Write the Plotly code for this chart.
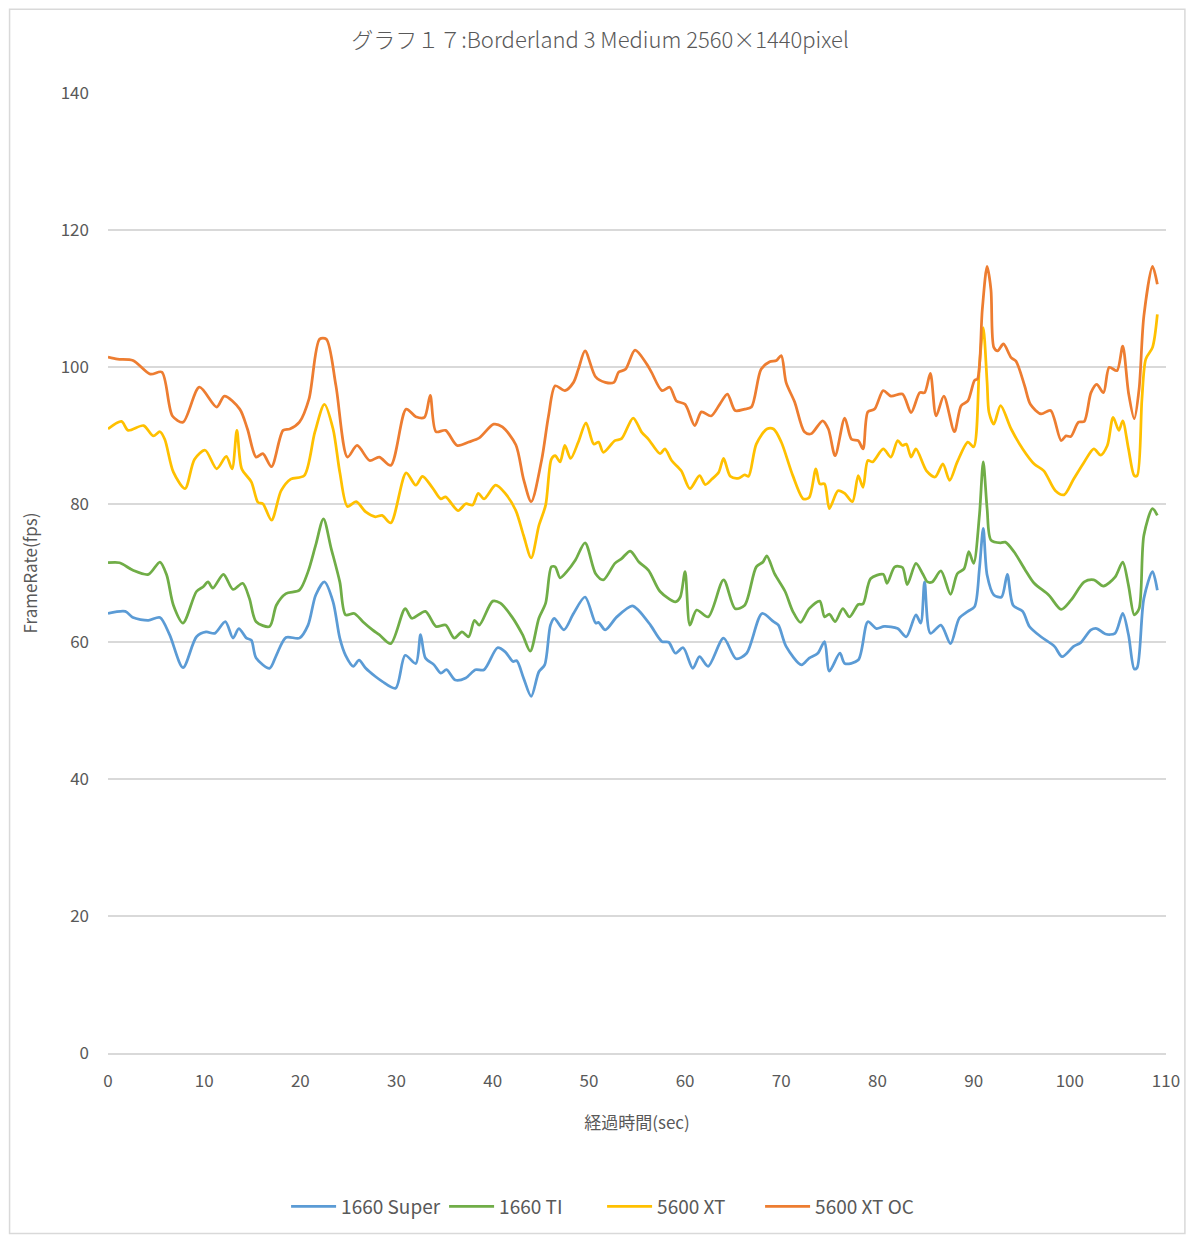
import plotly.graph_objects as go

# ---- data ----
t_super = [0, 1.8, 2.6, 4.2, 5.4, 6.4, 7.8, 9.2, 10.2, 11.1, 12.2, 13.0, 13.6, 14.4, 14.9, 15.4, 16.8, 17.5, 18.5, 19.9,
           20.8, 21.6, 22.5, 23.4, 24.1, 24.7, 25.5, 26.1, 26.8, 27.8, 28.5, 29.9, 30.9, 32.0, 32.5, 33.0, 33.9, 34.6, 35.2,
           36.1, 37.2, 38.2, 39.1, 40.5, 41.3, 42.1, 42.5, 43.2, 44.0, 44.8, 45.4, 46.0, 46.4, 47.4, 48.4, 49.6, 50.7, 51.0,
           51.7, 52.9, 54.5, 55.2, 56.4, 57.6, 58.3, 59.0, 59.8, 60.8, 61.5, 62.4, 64.0, 65.3, 66.4, 68.0, 69.2, 69.7, 70.5,
           72.1, 72.9, 73.8, 74.5, 75.0, 76.1, 76.6, 78.0, 79.0, 79.9, 80.7, 82.1, 83.0, 84.0, 84.5, 84.9, 85.5, 86.6, 87.6,
           88.5, 89.4, 90.1, 90.6, 91.0, 91.4, 92.1, 92.9, 93.5, 94.1, 95.1, 95.8, 97.0, 98.4, 99.2, 100.4, 101.1, 102.2,
           102.8, 103.7, 104.7, 105.5, 106.1, 106.7, 107.0, 107.7, 108.6, 109.1]
v_super = [64.1, 64.4, 63.5, 63.1, 63.5, 61.0, 56.2, 60.7, 61.4, 61.2, 62.9, 60.5, 61.9, 60.5, 60.2, 57.6, 56.1, 58.0, 60.6, 60.5,
           62.4, 66.8, 68.7, 65.8, 60.5, 58.0, 56.4, 57.3, 56.1, 54.9, 54.2, 53.2, 58.0, 56.8, 61.0, 57.6, 56.6, 55.4, 55.9,
           54.4, 54.7, 55.9, 55.9, 59.1, 58.5, 57.1, 57.2, 54.7, 52.0, 55.6, 56.6, 62.4, 63.4, 61.7, 64.1, 66.5, 62.7, 62.8,
           61.7, 63.6, 65.2, 64.5, 62.4, 60.0, 59.9, 58.3, 59.1, 56.1, 57.8, 56.4, 60.5, 57.5, 58.3, 64.1, 62.9, 62.4, 59.3,
           56.6, 57.6, 58.3, 60.0, 55.7, 58.3, 56.8, 57.3, 62.9, 61.9, 62.2, 61.9, 60.7, 63.9, 62.7, 68.7, 61.2, 62.4, 59.7,
           63.4, 64.4, 65.1, 70.6, 76.5, 69.7, 66.8, 66.5, 69.8, 65.3, 64.4, 62.2, 60.7, 59.3, 57.8, 59.3, 59.8, 61.7,
           61.9, 61.1, 61.2, 64.1, 61.0, 56.0, 56.2, 66.3, 70.2, 67.5]

t_ti = [0, 1.2, 2.6, 4.2, 5.4, 6.1, 6.8, 7.8, 9.2, 9.9, 10.4, 10.9, 12.0, 13.0, 14.0, 14.7, 15.4, 16.8, 17.5, 18.5, 19.9,
        20.8, 21.6, 22.4, 23.2, 24.1, 24.7, 25.6, 26.5, 27.5, 28.2, 29.4, 30.9, 31.6, 33.0, 34.1, 35.1, 36.0, 36.8, 37.5,
        38.1, 38.6, 40.0, 40.8, 42.0, 43.1, 43.9, 44.8, 45.5, 46.1, 46.5, 47.0, 47.7, 48.6, 49.6, 50.7, 51.5, 52.7, 53.4,
        54.3, 55.2, 56.2, 57.4, 59.0, 59.5, 60.0, 60.5, 61.2, 62.4, 64.0, 65.2, 66.2, 67.4, 68.1, 68.5, 69.3, 70.4, 71.2,
        72.0, 72.9, 74.0, 74.5, 75.0, 75.6, 76.4, 77.1, 78.0, 78.5, 79.3, 80.6, 81.0, 81.8, 82.6, 83.1, 84.0, 84.7, 85.2,
        85.7, 86.6, 87.6, 88.3, 89.0, 89.5, 90.0, 90.6, 91.0, 91.4, 91.8, 92.8, 93.3, 94.2, 95.3, 96.3, 97.8, 99.1, 100.1,
        101.5, 102.5, 103.5, 104.7, 105.5, 106.1, 106.7, 107.2, 107.7, 108.6, 109.1]
v_ti = [71.5, 71.5, 70.4, 69.8, 71.6, 69.7, 65.3, 62.7, 67.3, 68.0, 68.7, 67.8, 69.8, 67.6, 68.5, 66.3, 62.9, 62.2, 65.3, 67.0, 67.5,
        70.2, 74.1, 77.9, 73.6, 68.7, 63.9, 64.1, 62.9, 61.7, 61.0, 59.7, 64.8, 63.4, 64.4, 62.2, 62.4, 60.5, 61.4, 60.7,
        63.1, 62.4, 65.9, 65.6, 63.6, 61.0, 58.6, 63.4, 65.6, 70.9, 70.9, 69.3, 70.2, 71.9, 74.4, 69.9, 69.0, 71.4, 72.1,
        73.2, 71.6, 70.4, 67.3, 65.8, 66.5, 70.2, 62.4, 64.6, 63.6, 69.0, 64.8, 65.3, 70.9, 71.6, 72.5, 69.9, 67.3, 64.4,
        62.8, 64.8, 65.9, 63.6, 64.0, 62.9, 64.8, 63.6, 65.4, 65.5, 69.2, 69.8, 68.5, 70.9, 70.8, 68.3, 71.4, 69.9, 68.7,
        68.7, 70.3, 66.9, 69.9, 70.6, 73.1, 71.4, 78.4, 86.2, 79.4, 74.8, 74.4, 74.5, 73.1, 70.6, 68.5, 66.8, 64.7, 66.0,
        68.7, 69.0, 68.1, 69.4, 71.6, 68.2, 63.9, 64.8, 75.5, 79.4, 78.4]

t_xt = [0, 1.4, 2.1, 3.7, 4.7, 5.4, 5.9, 6.8, 8.0, 9.0, 10.1, 11.3, 12.3, 12.9, 13.4, 13.9, 14.9, 15.6, 16.1, 17.0, 18.0,
        19.0, 20.4, 21.5, 22.5, 23.4, 24.1, 24.9, 25.8, 26.8, 27.8, 28.5, 29.4, 31.0, 32.0, 32.7, 33.7, 34.6, 35.1, 36.4,
        37.2, 37.9, 38.5, 39.1, 40.3, 41.3, 42.4, 43.2, 44.0, 44.8, 45.5, 46.1, 46.5, 47.0, 47.5, 48.1, 48.9, 49.7, 50.5,
        51.0, 51.5, 52.7, 53.4, 54.6, 55.5, 56.2, 57.4, 57.9, 58.6, 59.6, 60.5, 61.5, 62.1, 62.8, 63.5, 64.0, 64.7, 65.5,
        66.2, 66.6, 67.4, 68.5, 69.2, 70.0, 71.2, 72.3, 72.9, 73.6, 74.0, 74.5, 75.0, 75.9, 76.6, 77.4, 78.0, 78.5, 79.0,
        79.5, 80.6, 81.4, 82.1, 82.6, 83.0, 83.5, 84.0, 85.1, 86.0, 86.8, 87.5, 88.3, 89.4, 90.0, 90.6, 91.0, 91.4, 91.6,
        92.1, 92.8, 93.9, 95.1, 96.3, 97.3, 98.5, 99.4, 100.4, 101.5, 102.5, 103.2, 103.9, 104.5, 105.1, 105.5, 106.1,
        106.7, 107.0, 107.5, 107.9, 108.6, 109.1]
v_xt = [91.0, 92.1, 90.8, 91.5, 90.0, 90.6, 89.5, 84.7, 82.3, 86.6, 87.9, 85.2, 87.0, 85.2, 90.8, 85.2, 83.3, 80.3, 80.1, 77.7, 82.0,
        83.7, 84.2, 90.5, 94.6, 91.0, 84.7, 79.7, 80.4, 78.9, 78.2, 78.4, 77.3, 84.6, 82.8, 84.1, 82.5, 80.8, 81.1, 79.1,
        80.1, 79.9, 81.6, 80.8, 82.8, 81.6, 79.1, 75.5, 72.2, 76.9, 79.9, 86.6, 87.1, 86.2, 88.6, 86.7, 89.1, 91.9, 88.8,
        89.1, 87.6, 89.3, 89.6, 92.6, 90.5, 89.5, 87.4, 88.1, 86.4, 84.9, 82.3, 84.2, 82.9, 83.7, 84.7, 86.7, 84.1, 83.8,
        84.3, 84.1, 88.8, 91.0, 91.0, 89.1, 84.2, 80.8, 81.0, 85.2, 83.0, 83.0, 79.4, 82.0, 81.6, 80.4, 84.2, 82.5, 86.4,
        86.2, 88.1, 86.9, 89.3, 88.6, 88.8, 86.9, 88.1, 84.9, 84.0, 85.9, 83.5, 86.2, 89.1, 88.4, 100.2, 105.8, 97.8, 93.4,
        91.7, 94.4, 91.0, 88.1, 85.9, 84.9, 82.0, 81.4, 83.7, 86.2, 88.1, 87.2, 88.6, 92.7, 90.8, 92.2, 88.1,
        84.2, 84.2, 95.4, 101.2, 102.9, 107.7]

t_xtoc = [0, 1.0, 2.6, 4.4, 5.6, 6.7, 7.8, 9.5, 11.3, 12.1, 13.7, 14.5, 15.4, 16.1, 17.0, 18.2, 18.9, 19.9, 20.9, 22.0,
          22.7, 23.7, 24.9, 25.9, 27.2, 28.2, 29.4, 31.0, 32.0, 32.9, 33.5, 34.1, 35.1, 36.3, 37.5, 38.6, 40.1, 41.0, 42.4,
          43.2, 44.0, 45.1, 45.8, 46.5, 47.5, 48.4, 48.9, 49.6, 50.7, 51.7, 52.6, 53.1, 53.8, 54.8, 56.0, 56.5, 57.6, 58.4,
          59.1, 60.0, 61.0, 61.7, 62.7, 63.6, 64.4, 65.2, 66.2, 66.9, 67.9, 68.8, 69.5, 70.0, 70.5, 71.4, 72.4, 73.1, 74.3,
          74.9, 75.6, 76.6, 77.3, 78.0, 78.5, 79.0, 79.7, 80.6, 81.4, 82.6, 83.5, 84.4, 84.9, 85.5, 86.1, 86.9, 88.0, 88.7,
          89.4, 90.1, 90.4, 90.9, 91.4, 91.8, 92.1, 92.5, 93.1, 93.9, 94.4, 95.3, 95.9, 97.0, 98.0, 99.1, 99.6, 100.1,
          100.9, 101.5, 102.2, 102.8, 103.5, 104.1, 104.9, 105.5, 106.1, 106.7, 107.2, 107.7, 108.6, 109.1]
v_xtoc = [101.5, 101.2, 101.0, 99.0, 99.3, 92.9, 92.0, 97.1, 94.2, 95.8, 93.9, 91.0, 86.9, 87.4, 85.5, 90.8, 91.0, 92.0, 95.4, 104.1,
          104.1, 97.3, 86.9, 88.6, 86.4, 86.9, 85.7, 93.9, 92.8, 92.7, 95.9, 90.6, 90.8, 88.6, 89.1, 89.7, 91.7, 91.3, 88.7,
          83.7, 80.4, 86.6, 92.9, 97.3, 96.6, 97.8, 99.7, 102.4, 98.6, 97.8, 97.8, 99.3, 99.7, 102.5, 100.5, 99.3, 96.6, 97.1,
          95.1, 94.6, 91.5, 93.5, 92.9, 94.6, 96.1, 93.7, 93.9, 94.2, 99.7, 100.8, 101.0, 101.7, 97.8, 94.9, 90.6, 90.3, 92.2,
          91.0, 87.1, 92.6, 89.5, 89.3, 88.1, 93.5, 93.9, 96.6, 95.8, 96.1, 93.4, 96.3, 96.3, 99.1, 92.9, 95.8, 90.6, 94.4,
          95.1, 98.1, 98.3, 108.4, 114.7, 111.3, 102.9, 102.4, 103.4, 101.4, 100.9, 97.3, 94.6, 93.2, 93.7, 89.3, 90.0, 89.9,
          92.0, 92.1, 96.3, 97.5, 96.3, 100.0, 99.5, 103.1, 96.3, 92.5, 96.8, 107.5, 114.7, 112.1]

series_names = ["1660 Super", "1660 TI", "5600 XT", "5600 XT OC"]
series_t = [t_super, t_ti, t_xt, t_xtoc]
series_v = [v_super, v_ti, v_xt, v_xtoc]
colors = ["#5b9bd5", "#70ad47", "#ffc000", "#ed7d31"]

x_ticks = list(range(0, 111, 10))
y_ticks = list(range(0, 141, 20))

FONT = "Noto Sans CJK JP"
GREY = "#595959"

fig = go.Figure()
for name, t, v, c in zip(series_names, series_t, series_v, colors):
    fig.add_trace(go.Scatter(x=t, y=v, name=name, mode="lines",
                             line=dict(color=c, width=2.75, shape="spline", smoothing=0.8)))

# page body has an 8px margin; size the figure so the plot area lands where the original is
W, H = 1184, 1230
fig.update_layout(
    width=W, height=H,
    margin=dict(l=100, r=20, t=85, b=182),
    paper_bgcolor="white", plot_bgcolor="white",
    font=dict(family=FONT, color=GREY, size=17),
    title=dict(text="グラフ１７:Borderland 3 Medium 2560×1440pixel", x=0.5, xanchor="center",
               y=1 - 32 / H, yanchor="middle",
               font=dict(size=22, color=GREY, family=FONT, weight=300)),
    xaxis=dict(range=[0, 110], tickvals=x_ticks, showgrid=False, zeroline=False,
               showline=True, linecolor="#d9d9d9", linewidth=1.5, ticks="",
               tickfont=dict(size=17, color=GREY), ticklabelstandoff=12,
               title=dict(text="経過時間(sec)", font=dict(size=17, color=GREY), standoff=26)),
    yaxis=dict(range=[0, 140], tickvals=y_ticks, showgrid=True, gridcolor="#d9d9d9", gridwidth=1.5,
               zeroline=False, showline=False, ticks="",
               tickfont=dict(size=17, color=GREY), ticklabelstandoff=18,
               title=dict(text="FrameRate(fps)", font=dict(size=17, color=GREY), standoff=18)),
    legend=dict(orientation="h", x=0.467, xanchor="center", y=-154 / 963, yanchor="middle",
                font=dict(size=19, color=GREY), itemwidth=45,
                entrywidth=98, entrywidthmode="pixels", tracegroupgap=0),
    showlegend=True,
)

# thin chart border like the original image
fig.add_shape(type="rect", xref="paper", yref="paper",
              x0=-99 / 1064, x1=1 + 19 / 1064, y0=-181 / 963, y1=1 + 84 / 963,
              line=dict(color="#d9d9d9", width=1.5), fillcolor="rgba(0,0,0,0)", layer="below")

fig.write_html("out.html")
